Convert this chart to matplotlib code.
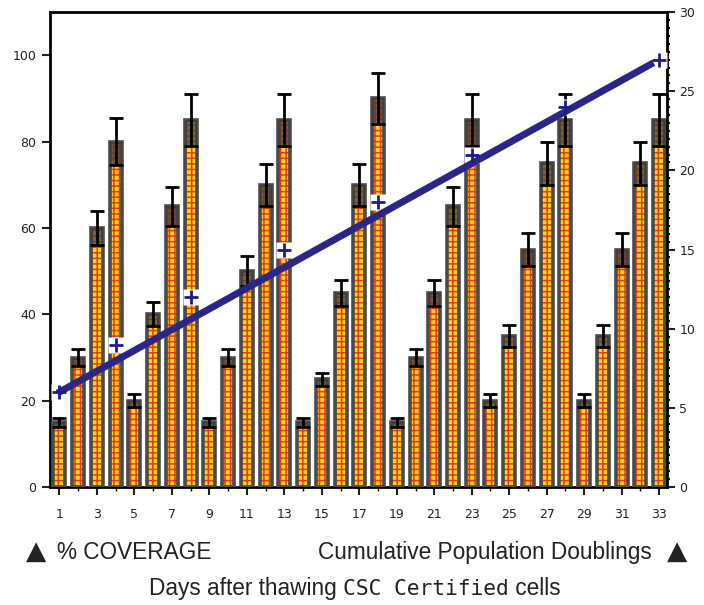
import numpy as np
import matplotlib
matplotlib.use("Agg")
import matplotlib.pyplot as plt
from matplotlib.offsetbox import TextArea, HPacker, AnchoredOffsetbox
from matplotlib.ticker import MultipleLocator

days = list(range(1, 34))
coverage = [15, 30, 60, 80, 20, 40, 65, 85, 15, 30, 50, 70, 85, 15, 25, 45, 70,
            90, 15, 30, 45, 65, 85, 20, 35, 55, 75, 85, 20, 35, 55, 75, 85]
coverage_err = [1, 2, 4, 5.5, 1.5, 2.8, 4.5, 6, 1, 2, 3.5, 4.8, 6, 1, 1.5, 3, 4.8,
                6, 1, 2, 3, 4.5, 6, 1.5, 2.5, 3.8, 5, 6, 1.5, 2.5, 3.8, 5, 6]
pd_days = [1, 4, 8, 13, 18, 23, 28, 33]
pd_values = [6, 9, 12, 15, 18, 21, 24, 27]
x_tick_labels = [str(d) for d in range(1, 34, 2)]

plt.rcParams['font.family'] = ['Liberation Sans', 'DejaVu Sans']
plt.rcParams['hatch.linewidth'] = 1.1

fig = plt.figure(figsize=(7.04, 6.05), dpi=100)
ax = fig.add_axes([0.071, 0.195, 0.876, 0.785])
ax2 = ax.twinx()

W = 0.64
# bars
ax.bar(days, coverage, width=W, color='#ffd21e', edgecolor='#e23c18',
       hatch='+++', linewidth=0, zorder=2)
ax.bar(days, coverage, width=W, fill=False, edgecolor='#4a4a4a',
       linewidth=2.6, zorder=3)
low = [c - e for c, e in zip(coverage, coverage_err)]
ax.bar(days, coverage_err, bottom=low, width=W, color='#3a3a3a', alpha=0.7,
       linewidth=0, zorder=3)
ax.errorbar(days, coverage, yerr=coverage_err, fmt='none', ecolor='black',
            elinewidth=2, capsize=5, capthick=2, zorder=4)

ax.set_xlim(0.5, 33.4)
ax.set_ylim(0, 110)
ax.set_xticks(range(1, 34, 2))
ax.set_xticklabels(x_tick_labels)
ax.xaxis.set_minor_locator(MultipleLocator(1))
ax.set_yticks([0, 20, 40, 60, 80, 100])
ax.tick_params(axis='both', which='major', direction='out', length=6, width=1.5,
               labelsize=9, colors='#222222', pad=4)
ax.tick_params(axis='x', which='major', pad=9)
ax.tick_params(axis='x', which='minor', direction='out', length=3, width=1)
for lbl in ax.get_xticklabels() + ax.get_yticklabels():
    lbl.set_fontfamily('DejaVu Sans')
for s in ['left', 'bottom', 'top']:
    ax.spines[s].set_linestyle((0, (1, 1)))
    ax.spines[s].set_linewidth(2)
ax.spines['bottom'].set_linestyle('-')
ax.spines['right'].set_visible(False)

# population doublings
ax2.set_ylim(0, 30)
ax2.set_yticks([0, 5, 10, 15, 20, 25, 30])
ax2.yaxis.set_minor_locator(MultipleLocator(0.5))
ax2.tick_params(axis='y', which='major', direction='out', length=6, width=1.5,
                labelsize=9, colors='#222222', pad=3)
ax2.tick_params(axis='y', which='minor', direction='out', length=2.5, width=1.5)
for lbl in ax2.get_yticklabels():
    lbl.set_fontfamily('DejaVu Sans')
for s in ['left', 'bottom', 'top']:
    ax2.spines[s].set_visible(False)
ax2.spines['right'].set_linestyle((0, (1, 1)))
ax2.spines['right'].set_linewidth(2)

line_x = [pd_days[0] - 0.1, pd_days[-1] - 0.3]
slope = (pd_values[-1] - pd_values[0]) / (pd_days[-1] - pd_days[0])
line_y = [pd_values[0] + slope * (x - pd_days[0]) for x in line_x]
ax2.plot(pd_days, pd_values, linestyle='none', marker='s', markersize=11,
         markerfacecolor='white', markeredgecolor='none', zorder=5)
ax2.plot(pd_days, pd_values, linestyle='none', marker='+', markersize=10,
         markeredgewidth=2, color='#1c1c8c', zorder=7)
ax2.plot(line_x, line_y, color='#2b2585', linewidth=5, solid_capstyle='butt',
         zorder=6)

# bottom labels
tc = '#222222'
FS = 16.3
fig.text(0.037, 0.088, '\u25B2', fontsize=19, color=tc, va='center', ha='left',
         family='DejaVu Sans')
fig.text(0.081, 0.086, '% COVERAGE', fontsize=FS, color=tc, va='center', ha='left')
fig.text(0.926, 0.086, 'Cumulative Population Doublings', fontsize=FS, color=tc,
         va='center', ha='right')
fig.text(0.976, 0.088, '\u25B2', fontsize=19, color=tc, va='center', ha='right',
         family='DejaVu Sans')
parts = [TextArea('Days after thawing ', textprops=dict(fontsize=FS, color=tc)),
         TextArea('CSC Certified', textprops=dict(fontsize=FS - 1, color=tc,
                                                  family='DejaVu Sans Mono')),
         TextArea(' cells', textprops=dict(fontsize=FS, color=tc))]
box = HPacker(children=parts, align='baseline', pad=0, sep=0)
ab = AnchoredOffsetbox(loc='center', child=box, frameon=False,
                       bbox_to_anchor=(0.504, 0.027), bbox_transform=fig.transFigure,
                       borderpad=0, pad=0)
fig.add_artist(ab)

fig.savefig('out.png', dpi=100, facecolor='white')
